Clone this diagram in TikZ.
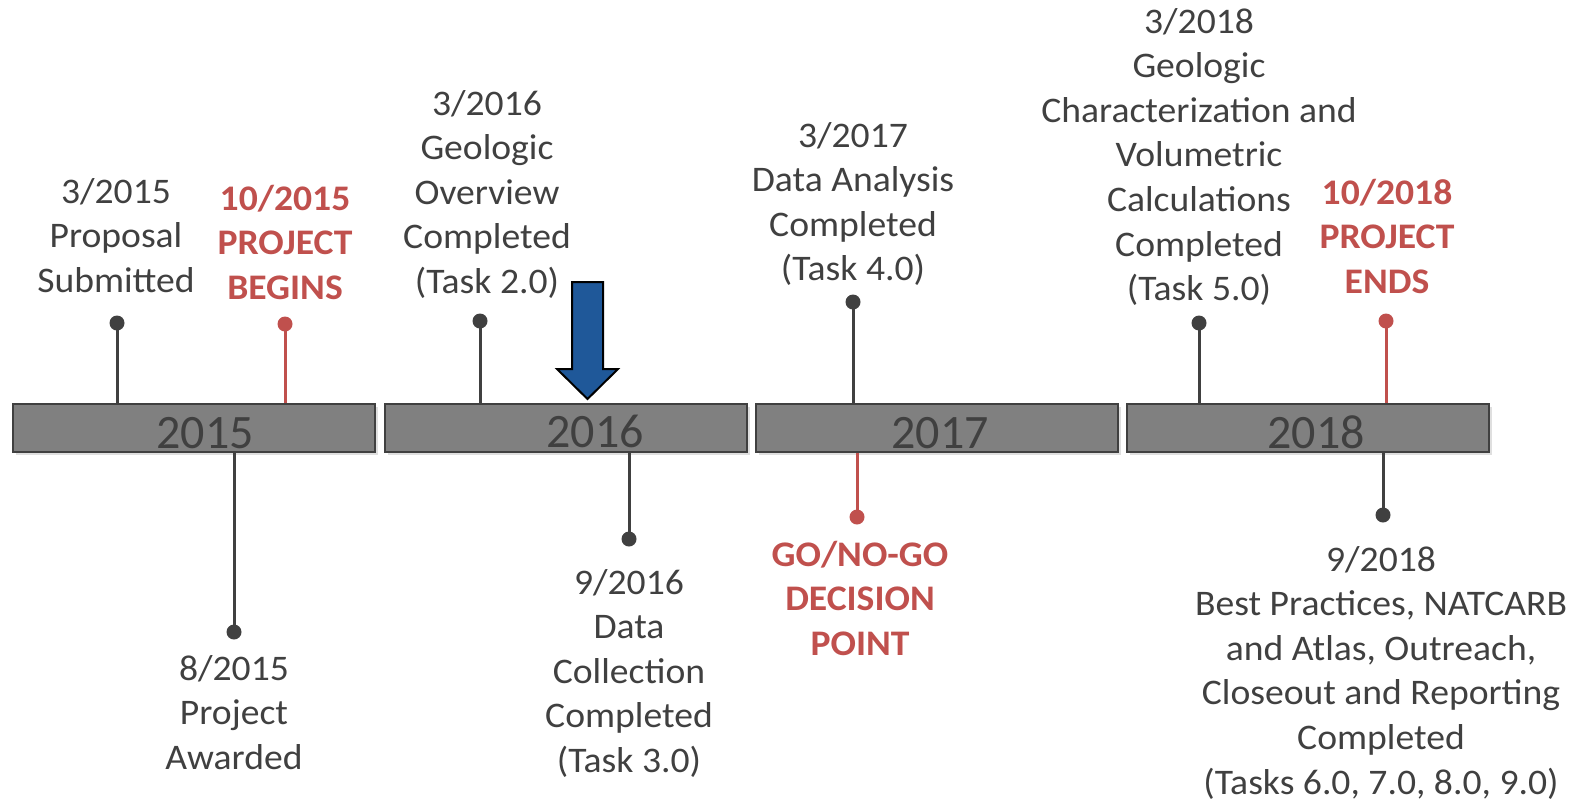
\documentclass[tikz,border=0pt]{standalone}
\usepackage{fontspec}
\setmainfont{Carlito}
\newfontfamily\evfont[FakeStretch=1.045]{Carlito}
\usetikzlibrary{shadows}
\definecolor{txt}{HTML}{404040}
\definecolor{redc}{HTML}{C0504D}
\definecolor{barfill}{HTML}{808080}
\definecolor{arrowblue}{HTML}{1F5899}
\newcommand{\evtext}[1]{\begin{tabular}[t]{@{}c@{}}#1\end{tabular}}
\tikzset{
  bar/.style={draw=txt, line width=2pt, fill=barfill, minimum width=362pt, minimum height=48pt, inner sep=0pt,
    drop shadow={opacity=0.25, shadow xshift=3pt, shadow yshift=-3pt}},
  year/.style={anchor=base, inner sep=0pt, text=txt, font=\fontsize{48}{50}\selectfont},
  ev/.style={anchor=base, inner sep=0pt, text=txt, font=\evfont\fontsize{36}{44.6}\selectfont},
  evred/.style={anchor=base, inner sep=0pt, text=redc, font=\evfont\fontsize{36}{44.6}\selectfont\bfseries},
  dotk/.style={circle, fill=txt, inner sep=0pt, minimum size=15pt},
  dotr/.style={circle, fill=redc, inner sep=0pt, minimum size=15pt},
  stemk/.style={draw=txt, line width=3pt},
  stemr/.style={draw=redc, line width=3pt},
}
\begin{document}
\begin{tikzpicture}[x=1pt, y=-1pt]
\useasboundingbox (0,0) rectangle (1581,801);
% bars
\node[bar] (b1) at (193.5,428) {};
\node[bar] (b2) at (566,428) {};
\node[bar] (b3) at (937,428) {};
\node[bar] (b4) at (1308,428) {};
\node[year] (y1) at (205,448) {2015};
\node[year] (y2) at (595,447) {2016};
\node[year] (y3) at (940,448) {2017};
\node[year] (y4) at (1316,448) {2018};
% dots
\node[dotk] (d1) at (117,323) {};
\node[dotr] (d2) at (285,324) {};
\node[dotk] (d3) at (480,321) {};
\node[dotk] (d4) at (853,302) {};
\node[dotk] (d5) at (1199,323) {};
\node[dotr] (d6) at (1386,321) {};
\node[dotk] (d7) at (234,632) {};
\node[dotk] (d8) at (629,539) {};
\node[dotr] (d9) at (857,517) {};
\node[dotk] (d10) at (1383,515) {};
% stems
\draw[stemk] (d1.center) -- (d1 |- b1.north);
\draw[stemr] (d2.center) -- (d2 |- b1.north);
\draw[stemk] (d3.center) -- (d3 |- b2.north);
\draw[stemk] (d4.center) -- (d4 |- b3.north);
\draw[stemk] (d5.center) -- (d5 |- b4.north);
\draw[stemr] (d6.center) -- (d6 |- b4.north);
\draw[stemk] (d7.center) -- (d7 |- b1.south);
\draw[stemk] (d8.center) -- (d8 |- b2.south);
\draw[stemr] (d9.center) -- (d9 |- b3.south);
\draw[stemk] (d10.center) -- (d10 |- b4.south);
% labels
\node[ev] (t1) at (116,203) {\evtext{3/2015\\Proposal\\Submitted}};
\node[evred] (t2) at (285,210) {\evtext{10/2015\\PROJECT\\BEGINS}};
\node[ev] (t3) at (487,115) {\evtext{3/2016\\Geologic\\Overview\\Completed\\(Task 2.0)}};
\node[ev] (t4) at (853,147) {\evtext{3/2017\\Data Analysis\\Completed\\(Task 4.0)}};
\node[ev] (t5) at (1199,33) {\evtext{3/2018\\Geologic\\Characterization and\\Volumetric\\Calculations\\Completed\\(Task 5.0)}};
\node[evred] (t6) at (1387,204) {\evtext{10/2018\\PROJECT\\ENDS}};
\node[ev] (t7) at (234,680) {\evtext{8/2015\\Project\\Awarded}};
\node[ev] (t8) at (629,594) {\evtext{9/2016\\Data\\Collection\\Completed\\(Task 3.0)}};
\node[evred] (t9) at (860,566) {\evtext{GO/NO-GO\\DECISION\\POINT}};
\node[ev] (t10) at (1381,571) {\evtext{9/2018\\Best Practices, NATCARB\\and Atlas, Outreach,\\Closeout and Reporting\\Completed\\(Tasks 6.0, 7.0, 8.0, 9.0)}};
% blue arrow
\draw[fill=arrowblue, draw=black, line width=2pt, line join=miter]
  (572,282) -- (603,282) -- (603,369) -- (618,369) -- (587.5,399) -- (557,369) -- (572,369) -- cycle;
\end{tikzpicture}
\end{document}
